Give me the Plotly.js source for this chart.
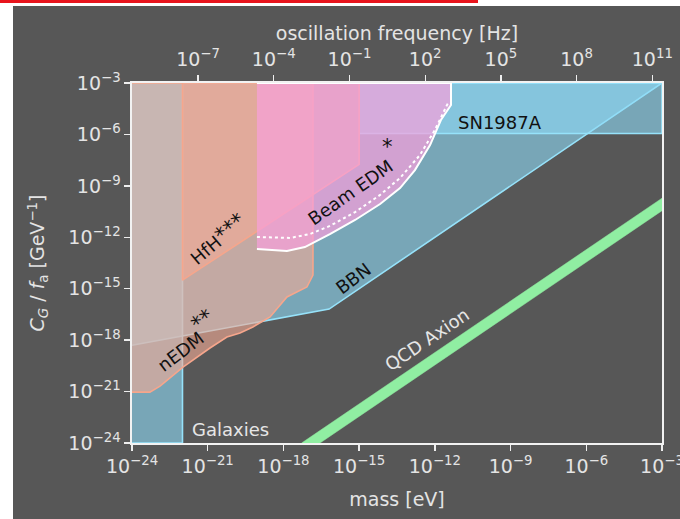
<!DOCTYPE html>
<html><head><meta charset="utf-8">
<script src="https://cdn.plot.ly/plotly-3.0.1.min.js"></script>
<style>
html,body{margin:0;padding:0;background:#fff;width:680px;height:519px;overflow:hidden;}
#bar{position:absolute;left:0;top:0;width:478px;height:3px;background:#e8141c;}
#chart{position:absolute;left:13px;top:6px;width:667px;height:513px;}
</style></head><body>
<div id="bar"></div><div id="chart"></div>
<script>
// All values are log10 of mass [eV], coupling [GeV^-1] or frequency [Hz]
const massTickLog = [-24, -21, -18, -15, -12, -9, -6, -3];
const couplingTickLog = [-24, -21, -18, -15, -12, -9, -6, -3];
const freqTickLog = [-7, -4, -1, 2, 5, 8, 11];
const hzPerEv = 2.418e14;

const bbnMassLog = [-24, -16.19, -3, -24];
const bbnCouplingLog = [-18.3, -16.19, -3, -3];
const snMassLog = [-15, -3, -3, -15];
const snCouplingLog = [-5.95, -5.95, -3, -3];
const galMassLog = [-24, -22, -22, -24];
const galCouplingLog = [-24, -24, -3, -3];
const nedmMassLog = [-24, -23.29, -22.89, -21.98, -20.91, -20.24, -19.72, -19.21, -18.53, -17.86, -17.07, -16.83, -16.83, -24];
const nedmCouplingLog = [-21.03, -21.03, -20.68, -19.57, -18.46, -17.82, -17.58, -17.23, -16.65, -15.48, -14.90, -14.20, -3, -3];
const hfhMassLog = [-22, -22, -15, -15];
const hfhCouplingLog = [-3, -14.5, -7.75, -3];
const beamMassLog = [-19.05, -17.86, -17.15, -16.16, -15.16, -14.17, -13.38, -12.79, -12.19, -11.76, -11.36, -11.36, -19.05];
const beamCouplingLog = [-12.68, -12.80, -12.57, -11.81, -10.99, -10.06, -9.13, -8.08, -6.62, -5.16, -4.28, -3, -3];
const beamProjMassLog = [-19.05, -17.74, -16.95, -16.16, -15.16, -14.17, -13.38, -12.59, -12.0, -11.48];
const beamProjCouplingLog = [-11.98, -12.04, -11.81, -11.34, -10.53, -9.53, -8.54, -7.20, -5.74, -4.17];
const qcdMassLog = [-17.28, -3, -3, -16.55];
const qcdCouplingLog = [-24, -9.72, -10.45, -24];

const pow10 = a => a.map(v => Math.pow(10, v));
const tickVals = a => a.map(v => Number('1e' + v));
const supLabel = e => '10<sup>' + (e < 0 ? '\u2212' + (-e) : e) + '</sup>';

function region(mx, cy, fill, lineColor, lw, dash) {
  return {
    type: 'scatter', mode: 'lines', x: pow10(mx), y: pow10(cy),
    fill: 'toself', fillcolor: fill,
    line: {color: lineColor, width: lw, dash: dash || 'solid'},
    hoverinfo: 'skip', showlegend: false
  };
}

const blueFill = 'rgba(141,219,246,0.6)';
const blueEdge = 'rgb(150,226,250)';
const salmonFill = 'rgba(245,172,150,0.6)';
const salmonEdge = 'rgb(246,166,140)';

const traces = [
  region(bbnMassLog, bbnCouplingLog, blueFill, blueEdge, 1.6),
  region(snMassLog, snCouplingLog, blueFill, blueEdge, 1.6),
  region(galMassLog, galCouplingLog, blueFill, blueEdge, 1.6),
  region(nedmMassLog, nedmCouplingLog, salmonFill, salmonEdge, 1.6),
  region(hfhMassLog, hfhCouplingLog, salmonFill, salmonEdge, 1.6),
  region(beamMassLog, beamCouplingLog, 'rgba(248,160,220,0.7)', '#ffffff', 2),
  {type: 'scatter', mode: 'lines', x: pow10(beamProjMassLog), y: pow10(beamProjCouplingLog),
   line: {color: '#ffffff', width: 2, dash: 'dot'}, hoverinfo: 'skip', showlegend: false},
  region(qcdMassLog, qcdCouplingLog, 'rgb(144,238,162)', 'rgb(144,238,162)', 0.5),
  {type: 'scatter', mode: 'lines', xaxis: 'x2', yaxis: 'y',
   x: pow10([-24, -3]).map(v => v * hzPerEv), y: pow10([-24, -24]),
   line: {width: 0}, opacity: 0, hoverinfo: 'skip', showlegend: false}
];

const axisCommon = {
  type: 'log', tickmode: 'array', ticks: 'outside', ticklen: 6, tickwidth: 1.3,
  tickcolor: '#eeeeee', showline: true, linecolor: '#f2f2f2', linewidth: 1.6,
  showgrid: false, zeroline: false, tickfont: {size: 19, color: '#e4e4e4'},
  ticklabeloverflow: 'allow'
};

const lbl = (text, mx, cy, angle, color, extra) => Object.assign({
  text: text, x: mx, y: cy, xref: 'x', yref: 'y', showarrow: false,
  textangle: angle, font: {size: 18, color: color, family: 'DejaVu Sans'}
}, extra || {});

const layout = {
  width: 667, height: 513,
  margin: {l: 119, r: 18, t: 77, b: 76},
  paper_bgcolor: '#575757', plot_bgcolor: '#575757',
  font: {family: 'DejaVu Sans', size: 18, color: '#e4e4e4'},
  xaxis: Object.assign({}, axisCommon, {
    range: [-24, -3], tickvals: tickVals(massTickLog), ticktext: massTickLog.map(supLabel),
    ticklabelstandoff: 0,
    title: {text: 'mass [eV]', standoff: 16, font: {size: 19, color: '#e4e4e4'}}
  }),
  xaxis2: Object.assign({}, axisCommon, {
    overlaying: 'x', side: 'top', anchor: 'y',
    range: [-24 + Math.log10(hzPerEv), -3 + Math.log10(hzPerEv)],
    tickvals: tickVals(freqTickLog), ticktext: freqTickLog.map(supLabel),
    ticklabelstandoff: 2,
    title: {text: 'oscillation frequency [Hz]', standoff: 0, font: {size: 19, color: '#e4e4e4'}}
  }),
  yaxis: Object.assign({}, axisCommon, {
    range: [-24, -3], mirror: true, tickvals: tickVals(couplingTickLog), ticktext: couplingTickLog.map(supLabel),
    title: {text: '<i>C</i><sub><i>G</i></sub> / <i>f</i><sub>a</sub> [GeV<sup>\u22121</sup>]', standoff: 18,
            font: {size: 19, color: '#e4e4e4'}}
  }),
  annotations: [
    lbl('SN1987A', -9.42, -5.33, 0, '#111111'),
    lbl('Beam EDM', -15.36, -9.36, -35, '#111111'),
    lbl('*', -13.86, -6.73, 0, '#111111', {font: {size: 21, color: '#111111'}}),
    lbl('HfH', -21.1, -12.75, -40, '#111111'),
    lbl('***', -20.1, -11.4, -40, '#111111', {font: {size: 21, color: '#111111'}}),
    lbl('nEDM', -22.06, -18.69, -37, '#111111'),
    lbl('**', -21.2, -16.85, -37, '#111111', {font: {size: 21, color: '#111111'}}),
    lbl('BBN', -15.24, -14.38, -37, '#111111'),
    lbl('QCD Axion', -12.31, -17.99, -34, '#e6e6e6'),
    lbl('Galaxies', -21.7, -23.24, 0, '#e6e6e6', {xanchor: 'left'})
  ]
};

Plotly.newPlot('chart', traces, layout, {staticPlot: true, displayModeBar: false});
</script>
</body></html>
